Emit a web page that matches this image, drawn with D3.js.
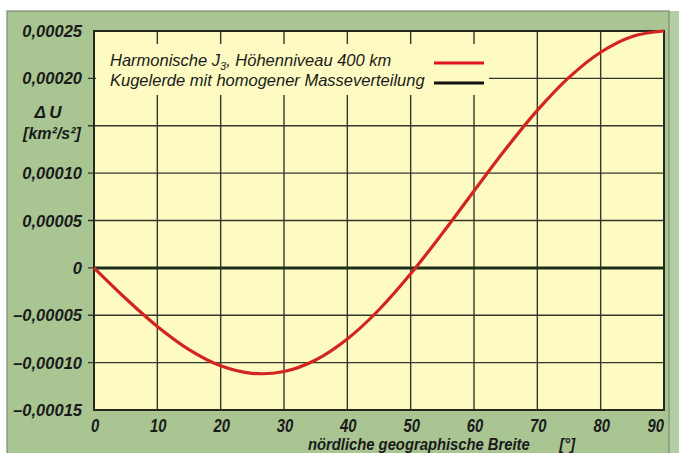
<!DOCTYPE html>
<html>
<head>
<meta charset="utf-8">
<script src="https://cdn.jsdelivr.net/npm/d3@7"></script>
<style>
  body { margin: 0; background: #fff; }
  text { font-family: "Liberation Sans", Arial, sans-serif; font-style: italic; fill: #1a1a1a; }
</style>
</head>
<body>
<script>
"use strict";

// latitude in degrees
var latitudes = [0, 5, 10, 15, 20, 25, 30, 35, 40, 45, 50, 55, 60, 65, 70, 75, 80, 85, 90];
// Delta U in km^2/s^2
var deltaU = [0, -0.0000323, -0.0000618, -0.0000862, -0.0001033, -0.0001113, -0.0001094,
  -0.0000972, -0.0000751, -0.0000442, -0.0000063, 0.0000364, 0.0000812, 0.0001254,
  0.0001662, 0.0002010, 0.0002276, 0.0002443, 0.00025];
var xTicks = [0, 10, 20, 30, 40, 50, 60, 70, 80, 90];
var yTicks = [-0.00015, -0.0001, -0.00005, 0, 0.00005, 0.0001, 0.00015, 0.0002, 0.00025];
// 0,00015 has no label, the axis title sits there
var yLabelTicks = [-0.00015, -0.0001, -0.00005, 0, 0.00005, 0.0001, 0.0002, 0.00025];
var legendLabels = ["Harmonische J", "Kugelerde mit homogener Masseverteilung"];

function init() {
  var w = 679;
  var h = 453;

  var svg = d3.select("body")
    .append("svg")
    .attr("width", w)
    .attr("height", h);

  // panel
  svg.append("rect")
    .attr("x", 669).attr("y", 11).attr("width", 10).attr("height", h)
    .attr("fill", "#b5cda3");
  svg.append("rect")
    .attr("x", 7).attr("y", 11).attr("width", 662).attr("height", h)
    .attr("fill", "#a9c592")
    .attr("stroke", "#7e8a78")
    .attr("stroke-width", 1.2);

  var xScale = d3.scaleLinear()
    .domain([0, 90])
    .range([94, 664]);

  var yScale = d3.scaleLinear()
    .domain([-0.00015, 0.00025])
    .range([410, 31]);

  // plot background
  svg.append("rect")
    .attr("x", xScale(0))
    .attr("y", yScale(0.00025))
    .attr("width", xScale(90) - xScale(0))
    .attr("height", yScale(-0.00015) - yScale(0.00025))
    .attr("fill", "#fdfbc2");

  // grid
  svg.selectAll("line.vgrid")
    .data(xTicks.slice(1, -1))
    .enter()
    .append("line")
    .attr("class", "vgrid")
    .attr("x1", function (d) { return xScale(d); })
    .attr("x2", function (d) { return xScale(d); })
    .attr("y1", yScale(0.00025))
    .attr("y2", yScale(-0.00015))
    .attr("stroke", "#34372c")
    .attr("stroke-width", 1.4);

  svg.selectAll("line.hgrid")
    .data(yTicks.slice(1, -1))
    .enter()
    .append("line")
    .attr("class", "hgrid")
    .attr("x1", xScale(0) - 6)
    .attr("x2", xScale(90))
    .attr("y1", function (d) { return yScale(d); })
    .attr("y2", function (d) { return yScale(d); })
    .attr("stroke", "#34372c")
    .attr("stroke-width", 1.4);

  // legend background cuts the grid
  svg.append("rect")
    .attr("x", xScale(0) + 2)
    .attr("y", 44)
    .attr("width", 489 - xScale(0) - 2)
    .attr("height", 51)
    .attr("fill", "#fdfbc2");

  // border
  svg.append("rect")
    .attr("x", xScale(0))
    .attr("y", yScale(0.00025))
    .attr("width", xScale(90) - xScale(0))
    .attr("height", yScale(-0.00015) - yScale(0.00025))
    .attr("fill", "none")
    .attr("stroke", "#26281f")
    .attr("stroke-width", 2);

  // homogeneous earth line
  svg.append("line")
    .attr("x1", xScale(0))
    .attr("x2", xScale(90))
    .attr("y1", yScale(0))
    .attr("y2", yScale(0))
    .attr("stroke", "#1c2d1a")
    .attr("stroke-width", 3);

  // J3 curve
  var line = d3.line()
    .x(function (d, i) { return xScale(latitudes[i]); })
    .y(function (d) { return yScale(d); })
    .curve(d3.curveCatmullRom);

  svg.append("path")
    .datum(deltaU)
    .attr("d", line)
    .attr("fill", "none")
    .attr("stroke", "#d3251f")
    .attr("stroke-width", 3.2);

  // y labels
  var fmt = function (d) {
    if (d === 0) return "0";
    var s = Math.abs(d).toFixed(5).replace(".", ",");
    return (d < 0 ? "\u2013" : "") + s;
  };

  svg.selectAll("text.ylab")
    .data(yLabelTicks)
    .enter()
    .append("text")
    .attr("class", "ylab")
    .attr("x", 82)
    .attr("y", function (d) { return yScale(d) + 6; })
    .attr("text-anchor", "end")
    .attr("font-size", "16.5px")
    .attr("font-weight", "bold")
    .text(fmt);

  // x labels (condensed by a horizontal scale), last one kept inside
  svg.selectAll("text.xlab")
    .data(xTicks)
    .enter()
    .append("text")
    .attr("class", "xlab")
    .attr("transform", function (d) {
      var x = d === 90 ? xScale(d) : xScale(d) + 1;
      return "translate(" + x + ",432) scale(0.78,1)";
    })
    .attr("text-anchor", function (d) { return d === 90 ? "end" : "middle"; })
    .attr("font-size", "19px")
    .attr("font-weight", "bold")
    .text(function (d) { return d; });

  // axis titles
  svg.append("text")
    .attr("x", 48).attr("y", 118)
    .attr("text-anchor", "middle")
    .attr("font-size", "17px")
    .attr("font-weight", "bold")
    .text("\u0394\u2009U");
  svg.append("text")
    .attr("x", 52).attr("y", 139)
    .attr("text-anchor", "middle")
    .attr("font-size", "16px")
    .attr("font-weight", "bold")
    .text("[km\u00b2/s\u00b2]");

  // x title, condensed to the width it has in the picture
  svg.append("text")
    .attr("transform", "translate(308,450) scale(0.87,1)")
    .attr("font-size", "17px")
    .attr("font-weight", "bold")
    .text("nördliche geographische Breite\u2003\u2003[°]");

  // legend
  var l1 = svg.append("text")
    .attr("x", 110).attr("y", 66)
    .attr("font-size", "16.5px");
  l1.append("tspan").text(legendLabels[0]);
  l1.append("tspan").attr("font-size", "11px").attr("dy", 4).text("3");
  l1.append("tspan").attr("dy", -4).text(", Höhenniveau 400 km");

  svg.append("text")
    .attr("x", 110).attr("y", 86)
    .attr("font-size", "16.5px")
    .text(legendLabels[1]);

  svg.append("line")
    .attr("x1", 434).attr("x2", 484).attr("y1", 63).attr("y2", 63)
    .attr("stroke", "#e3141a").attr("stroke-width", 3);
  svg.append("line")
    .attr("x1", 434).attr("x2", 484).attr("y1", 83).attr("y2", 83)
    .attr("stroke", "#111").attr("stroke-width", 3);
}

window.onload = init;
</script>
</body>
</html>
